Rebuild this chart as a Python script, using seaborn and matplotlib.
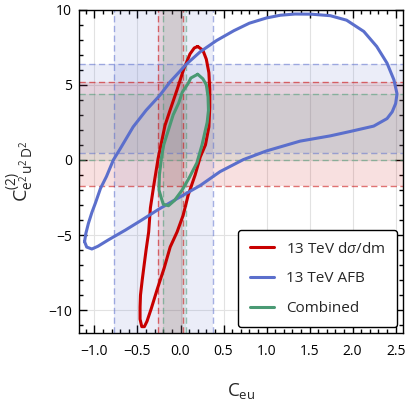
import numpy as np
import pandas as pd
import seaborn as sns
import matplotlib
matplotlib.use('Agg')
import matplotlib.pyplot as plt
from matplotlib.ticker import MultipleLocator

# contour points (C_eu, C2)
red_x = [0.20, 0.26, 0.30, 0.33, 0.34, 0.34, 0.33, 0.29, 0.23, 0.17, 0.09, 0.03, -0.04, -0.12,
         -0.19, -0.27, -0.34, -0.39, -0.42, -0.45, -0.47, -0.47, -0.465, -0.445, -0.425, -0.40,
         -0.37, -0.35, -0.31, -0.26, -0.18, -0.12, -0.04, 0.035, 0.11, 0.16, 0.20]
red_y = [7.55, 7.3, 6.7, 5.8, 4.7, 3.5, 2.2, 1.0, 0.2, -1.0, -2.33, -3.7, -4.8, -5.8,
         -7.2, -8.6, -9.9, -10.75, -11.1, -11.1, -10.6, -9.8, -9.0, -8.0, -7.1, -6.0,
         -4.8, -3.2, -1.67, 0.1, 2.3, 3.33, 4.67, 6.0, 7.05, 7.45, 7.55]

blue_x = [-1.115, -1.10, -1.07, -1.03, -0.99, -0.93, -0.86, -0.78, -0.70, -0.55, -0.40, -0.24,
          -0.12, 0.07, 0.23, 0.42, 0.62, 0.80, 1.0, 1.16, 1.33, 1.52, 1.74, 1.93, 2.13, 2.28,
          2.40, 2.48, 2.516, 2.50, 2.46, 2.40, 2.245, 1.97, 1.74, 1.39, 1.0, 0.73, 0.46, 0.23,
          -0.08, -0.255, -0.45, -0.64, -0.84, -0.96, -1.03, -1.09, -1.115]
blue_y = [-5.44, -4.9, -4.22, -3.5, -2.89, -1.9, -1.1, 0.0, 0.75, 2.2, 3.3, 4.3,
          5.2, 6.38, 7.2, 7.95, 8.6, 9.1, 9.45, 9.63, 9.71, 9.70, 9.6, 9.3, 8.55, 7.55,
          6.44, 5.33, 4.4, 3.75, 3.2, 2.75, 2.25, 1.89, 1.6, 1.25, 0.6, 0.02, -0.78, -1.7,
          -2.71, -3.29, -4.0, -4.67, -5.33, -5.75, -5.93, -5.8, -5.44]

green_x = [0.20, 0.26, 0.30, 0.32, 0.325, 0.31, 0.29, 0.25, 0.19, 0.10, 0.02, -0.07, -0.14,
           -0.20, -0.225, -0.25, -0.245, -0.22, -0.195, -0.14, -0.085, -0.02, 0.02, 0.09,
           0.12, 0.20]
green_y = [5.7, 5.4, 5.0, 4.2, 3.3, 2.5, 2.0, 1.0, -0.2, -1.2, -2.0, -2.7, -3.05,
           -2.95, -2.5, -2.0, -1.0, 0.2, 1.0, 2.0, 3.0, 3.8, 4.5, 5.1, 5.45, 5.7]

series = ['13 TeV d$\\sigma$/dm', '13 TeV AFB', 'Combined']
colors = ['#c80000', '#5b6fcc', '#4a9a74']

# one-parameter bounds (vertical: C_eu, horizontal: C2)
ceu_bounds = [(-0.26, 0.03), (-0.77, 0.377), (-0.20, 0.066)]
c2_bounds = [(-1.73, 5.2), (0.49, 6.38), (0.02, 4.4)]

xticks = [-1.0, -0.5, 0.0, 0.5, 1.0, 1.5, 2.0, 2.5]
yticks = [-10, -5, 0, 5, 10]

df = pd.concat([
    pd.DataFrame({'x': red_x, 'y': red_y, 'series': series[0]}),
    pd.DataFrame({'x': blue_x, 'y': blue_y, 'series': series[1]}),
    pd.DataFrame({'x': green_x, 'y': green_y, 'series': series[2]}),
], ignore_index=True)

sns.set_style('ticks')
plt.rcParams['font.family'] = ['Open Sans', 'DejaVu Sans']
plt.rcParams['mathtext.fontset'] = 'custom'
plt.rcParams['mathtext.rm'] = 'Open Sans'
plt.rcParams['mathtext.it'] = 'Open Sans:italic'
plt.rcParams['mathtext.bf'] = 'Open Sans:bold'

fig, ax = plt.subplots(figsize=(4.07, 4.03), dpi=100)
fig.subplots_adjust(left=0.194, right=0.989, bottom=0.1745, top=0.976)

ax.grid(True, color='#e2e2e2', lw=0.8, zorder=0)
ax.set_axisbelow(True)

for (lo, hi), c in zip(ceu_bounds, colors):
    ax.axvspan(lo, hi, color=c, alpha=0.12, lw=0, zorder=1)
    for v in (lo, hi):
        ax.axvline(v, color=c, alpha=0.55, lw=1, ls=(0, (4.5, 2.5)), zorder=1.5)
for (lo, hi), c in zip(c2_bounds, colors):
    ax.axhspan(lo, hi, color=c, alpha=0.12, lw=0, zorder=1)
    for v in (lo, hi):
        ax.axhline(v, color=c, alpha=0.55, lw=1, ls=(0, (4.5, 2.5)), zorder=1.5)

sns.lineplot(data=df, x='x', y='y', hue='series', palette=colors, sort=False,
             estimator=None, lw=2.2, ax=ax, zorder=3)

ax.set_xlim(-1.18, 2.58)
ax.set_ylim(-11.5, 10)
ax.set_xticks(xticks)
ax.set_yticks(yticks)
ax.xaxis.set_minor_locator(MultipleLocator(0.1))
ax.yaxis.set_minor_locator(MultipleLocator(1))
ax.tick_params(which='both', direction='in', top=True, right=True, width=1, colors='black')
ax.tick_params(which='major', length=6, labelsize=10)
ax.tick_params(which='minor', length=3)
ax.tick_params(axis='x', pad=8)
ax.tick_params(axis='y', pad=5)
for s in ax.spines.values():
    s.set_linewidth(1)
    s.set_color('black')

ax.set_xlabel('C$_{\\mathregular{eu}}$', fontsize=13.5, labelpad=16)
ax.set_ylabel('C$^{(2)}_{\\mathregular{e^2\\,u^2\\,D^2}}$', fontsize=14, labelpad=9)

handles, labels = ax.get_legend_handles_labels()
leg = ax.legend(handles, labels, loc='lower right', fontsize=11, frameon=True, fancybox=True,
                edgecolor='black', framealpha=1, borderaxespad=0.35, handlelength=1.6,
                labelspacing=0.95, borderpad=0.75)
leg.get_frame().set_linewidth(1)

plt.savefig('out.png', dpi=100)
